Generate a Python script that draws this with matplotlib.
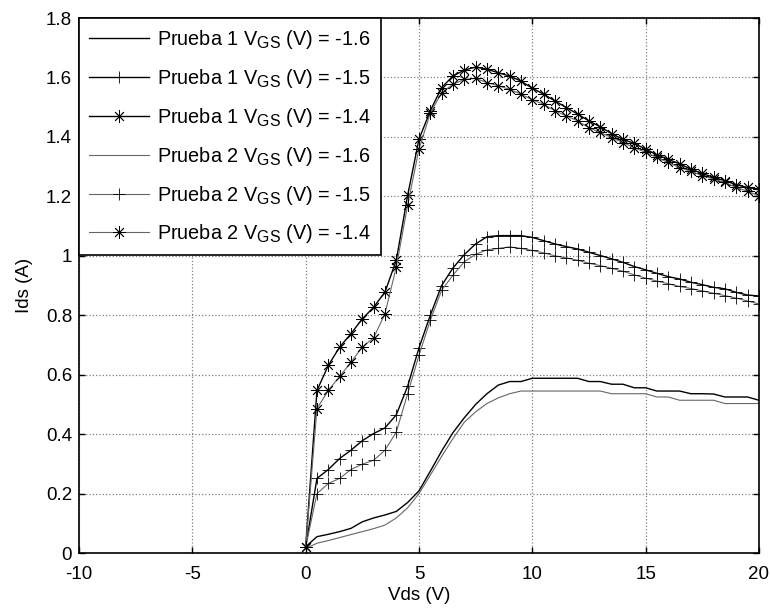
import numpy as np
import matplotlib
matplotlib.use('Agg')
import matplotlib.pyplot as plt
import matplotlib._mathtext as mathtext_internal
from matplotlib.ticker import FuncFormatter

plt.rcParams['font.family'] = ['Liberation Sans', 'DejaVu Sans']
plt.rcParams['mathtext.default'] = 'regular'
plt.rcParams['axes.unicode_minus'] = False
# MATLAB draws the GS subscript a bit bigger than mathtext's default
mathtext_internal.SHRINK_FACTOR = 0.8

# Vds sweep (V), one point every 0.5 V
vds = [0.0, 0.5, 1.0, 1.5, 2.0, 2.5, 3.0, 3.5, 4.0, 4.5, 5.0, 5.5, 6.0, 6.5, 7.0, 7.5, 8.0, 8.5, 9.0, 9.5,
       10.0, 10.5, 11.0, 11.5, 12.0, 12.5, 13.0, 13.5, 14.0, 14.5, 15.0, 15.5, 16.0, 16.5, 17.0, 17.5, 18.0,
       18.5, 19.0, 19.5, 20.0]

# Ids (A), Prueba 1
p1_vgs16 = [0.021, 0.055, 0.063, 0.072, 0.083, 0.105, 0.118, 0.128, 0.140, 0.170, 0.209, 0.275, 0.343, 0.405,
            0.455, 0.500, 0.536, 0.565, 0.577, 0.577, 0.588, 0.588, 0.588, 0.588, 0.588, 0.577, 0.577, 0.568,
            0.568, 0.556, 0.556, 0.545, 0.545, 0.545, 0.536, 0.536, 0.535, 0.525, 0.525, 0.525, 0.514]
p1_vgs15 = [0.020, 0.251, 0.281, 0.318, 0.346, 0.378, 0.402, 0.421, 0.465, 0.561, 0.690, 0.800, 0.900, 0.959,
            1.004, 1.040, 1.064, 1.068, 1.068, 1.068, 1.062, 1.051, 1.040, 1.031, 1.023, 1.012, 1.001, 0.990,
            0.978, 0.964, 0.953, 0.941, 0.930, 0.922, 0.911, 0.903, 0.894, 0.889, 0.877, 0.868, 0.865]
p1_vgs14 = [0.020, 0.547, 0.631, 0.693, 0.738, 0.788, 0.827, 0.878, 0.985, 1.203, 1.392, 1.488, 1.566, 1.605,
            1.625, 1.635, 1.628, 1.616, 1.605, 1.588, 1.564, 1.544, 1.521, 1.499, 1.477, 1.454, 1.434, 1.411,
            1.392, 1.378, 1.359, 1.340, 1.325, 1.309, 1.292, 1.277, 1.264, 1.253, 1.239, 1.230, 1.225]

# Ids (A), Prueba 2
p2_vgs16 = [0.015, 0.033, 0.042, 0.052, 0.062, 0.072, 0.082, 0.094, 0.118, 0.152, 0.200, 0.262, 0.325, 0.385,
            0.440, 0.475, 0.503, 0.522, 0.536, 0.545, 0.545, 0.545, 0.545, 0.545, 0.545, 0.545, 0.545, 0.536,
            0.536, 0.536, 0.536, 0.525, 0.525, 0.514, 0.514, 0.514, 0.514, 0.503, 0.503, 0.503, 0.503]
p2_vgs15 = [0.020, 0.200, 0.234, 0.251, 0.281, 0.299, 0.312, 0.346, 0.407, 0.536, 0.665, 0.783, 0.884, 0.935,
            0.980, 1.005, 1.020, 1.025, 1.030, 1.025, 1.018, 1.010, 1.000, 0.993, 0.985, 0.975, 0.967, 0.958,
            0.948, 0.936, 0.925, 0.915, 0.906, 0.897, 0.890, 0.882, 0.874, 0.866, 0.858, 0.848, 0.838]
p2_vgs14 = [0.020, 0.486, 0.547, 0.594, 0.642, 0.693, 0.724, 0.805, 0.962, 1.170, 1.359, 1.480, 1.549, 1.577,
            1.594, 1.597, 1.583, 1.572, 1.560, 1.544, 1.525, 1.510, 1.488, 1.471, 1.454, 1.431, 1.415, 1.398,
            1.381, 1.364, 1.348, 1.331, 1.314, 1.297, 1.284, 1.270, 1.258, 1.247, 1.230, 1.217, 1.202]

series = [
    (p1_vgs16, 'Prueba 1 V$_{GS}$ (V) = -1.6', 'none', 'k', 1.0),
    (p1_vgs15, 'Prueba 1 V$_{GS}$ (V) = -1.5', '+', 'k', 1.0),
    (p1_vgs14, 'Prueba 1 V$_{GS}$ (V) = -1.4', (8, 2, 0), 'k', 1.0),
    (p2_vgs16, 'Prueba 2 V$_{GS}$ (V) = -1.6', 'none', '0.4', 0.8),
    (p2_vgs15, 'Prueba 2 V$_{GS}$ (V) = -1.5', '+', '0.4', 0.8),
    (p2_vgs14, 'Prueba 2 V$_{GS}$ (V) = -1.4', (8, 2, 0), '0.4', 0.8),
]

fig = plt.figure(figsize=(7.7, 6.1), dpi=100)
ax = fig.add_axes([0.1026, 0.0934, 0.883, 0.877])

for ys, lab, mk, col, lw in series:
    ax.plot(vds, ys, color=col, linewidth=lw, marker=mk, markersize=9,
            markeredgewidth=0.6, markeredgecolor='k', label=lab)

ax.set_xlim(-10, 20)
ax.set_ylim(0, 1.8)
ax.set_xticks([-10, -5, 0, 5, 10, 15, 20])
ax.set_yticks(np.arange(0, 1.81, 0.2))
ax.yaxis.set_major_formatter(FuncFormatter(lambda v, p: '%g' % round(v, 2)))
ax.tick_params(direction='in', top=True, right=True, length=4, labelsize=13.5, width=1)
ax.tick_params(axis='x', pad=9)
ax.tick_params(axis='y', pad=5)
for s in ax.spines.values():
    s.set_linewidth(1.2)
ax.grid(True, linestyle=':', color='0.5', linewidth=0.9)

ax.set_xlabel('Vds (V)', fontsize=13.5, labelpad=3)
ax.set_ylabel('Ids (A)', fontsize=13.5, labelpad=9)

leg = ax.legend(loc='upper left', fontsize=14.3, numpoints=1, handlelength=3.0,
                labelspacing=0.8, borderaxespad=0, fancybox=False, framealpha=1,
                borderpad=0.5, handletextpad=0.45)
leg.get_frame().set_edgecolor('k')
leg.get_frame().set_linewidth(1.2)

plt.savefig('out.png', dpi=100)
